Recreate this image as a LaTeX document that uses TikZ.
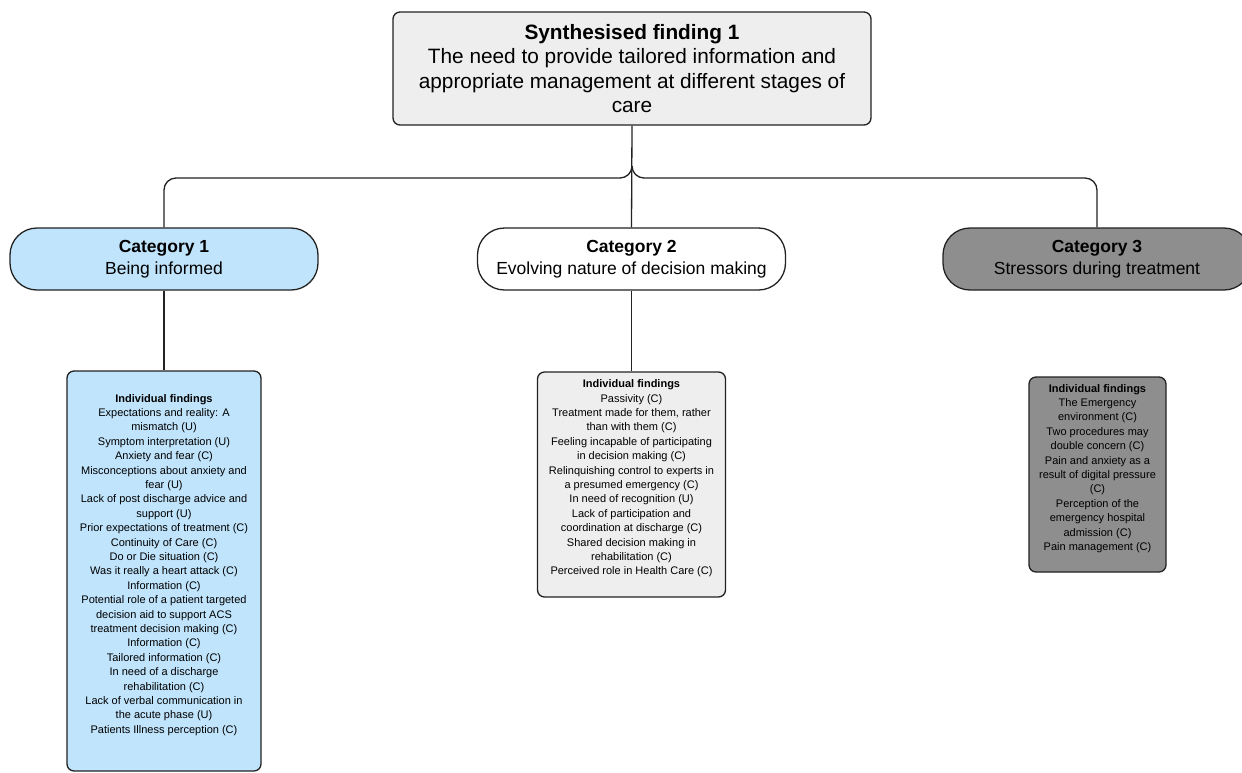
\documentclass[tikz,border=0pt]{standalone}
\usepackage{fontspec}
\setmainfont{Liberation Sans}
\definecolor{sky}{HTML}{C0E4FC}
\definecolor{pale}{HTML}{EEEEEE}
\definecolor{mid}{HTML}{8E8E8E}
\definecolor{ink}{HTML}{222222}
\tikzset{sc/.style={x=1pt,y=-1pt,line width=1.3pt},
  box/.style={draw=ink,line width=1.3pt,rounded corners=7pt,align=center,inner sep=0pt},
  cat/.style={box,rounded corners=27pt,minimum width=308pt,minimum height=62pt,font=\fontsize{17.5}{22}\selectfont},
  finds/.style={box,font=\fontsize{11}{14.4}\selectfont},
  link/.style={ink,line width=1.3pt,rounded corners=12pt}}

\begin{document}
\begin{tikzpicture}[sc]
  \useasboundingbox (0,0) rectangle (1242,772);
  \node[box,fill=pale,minimum width=478pt,minimum height=113pt,font=\fontsize{20.8}{24.5}\selectfont] (top) at (632,68.5)
    {\textbf{Synthesised finding 1}\\The need to provide tailored information and\\appropriate management at different stages of\\care};
  \node[cat,fill=sky] (cat1) at (164,259) {\textbf{Category 1}\\Being informed};
  \node[cat,fill=white] (cat2) at (631.5,259) {\textbf{Category 2}\\Evolving nature of decision making};
  \node[cat,fill=mid] (cat3) at (1097,259) {\textbf{Category 3}\\Stressors during treatment};
  \node[finds,fill=sky,minimum width=194pt,minimum height=400pt] (f1) at (164,571)
    {\textbf{Individual findings}\\Expectations and reality: A\\mismatch (U)\\Symptom interpretation (U)\\Anxiety and fear (C)\\
     Misconceptions about anxiety and\\fear (U)\\Lack of post discharge advice and\\support (U)\\Prior expectations of treatment (C)\\
     Continuity of Care (C)\\Do or Die situation (C)\\Was it really a heart attack (C)\\Information (C)\\
     Potential role of a patient targeted\\decision aid to support ACS\\treatment decision making (C)\\Information (C)\\
     Tailored information (C)\\In need of a discharge\\rehabilitation (C)\\Lack of verbal communication in\\the acute phase (U)\\
     Patients Illness perception (C)\\ \mbox{}};
  \node[finds,fill=pale,minimum width=188pt,minimum height=225pt] (f2) at (631.5,484.5)
    {\textbf{Individual findings}\\Passivity (C)\\Treatment made for them, rather\\than with them (C)\\Feeling incapable of participating\\
     in decision making (C)\\Relinquishing control to experts in\\a presumed emergency (C)\\In need of recognition (U)\\
     Lack of participation and\\coordination at discharge (C)\\Shared decision making in\\rehabilitation (C)\\
     Perceived role in Health Care (C)\\ \mbox{}};
  \node[finds,fill=mid,minimum width=137pt,minimum height=195pt] (f3) at (1097.5,474.5)
    {\textbf{Individual findings}\\The Emergency\\environment (C)\\Two procedures may\\double concern (C)\\Pain and anxiety as a\\
     result of digital pressure\\(C)\\Perception of the\\emergency hospital\\admission (C)\\Pain management (C)\\ \mbox{}};
  \coordinate (hub) at (top.south |- 0,178);
  \coordinate (fork) at (top.south |- 0,166);
  \draw[link] (top.south) -- (cat2.north);
  \draw[link] (fork) -- (hub) -| (cat1.north);
  \draw[link] (fork) -- (hub) -| (cat3.north);
  \draw[link] (cat1.south) -- (f1.north);
  \draw[link] (cat2.south) -- (f2.north);
\end{tikzpicture}
\end{document}
